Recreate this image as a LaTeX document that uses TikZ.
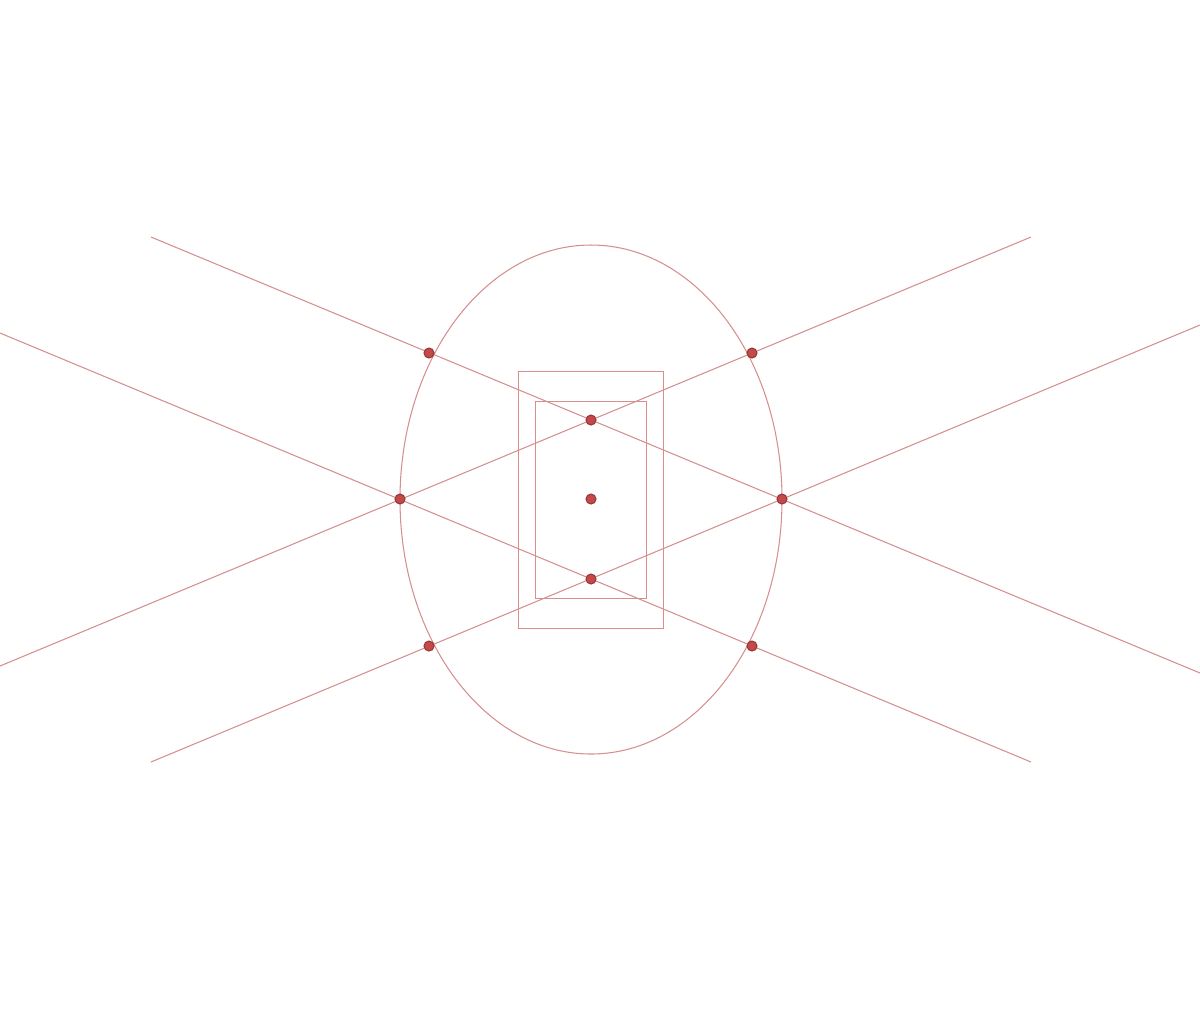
\documentclass[tikz,border=0pt]{standalone}
\usepackage{tikz}
\usetikzlibrary{positioning,calc}
\definecolor{linered}{HTML}{D68E8E}
\definecolor{dotred}{HTML}{C44A4A}
\definecolor{dotdark}{HTML}{963636}
\tikzset{
	vert/.style={circle,inner sep=0,fill=dotred,draw=dotdark,line width=0.3pt,minimum size=0.1cm},
	edge/.style={color=linered, line width=0.3pt},
	frame/.style={color=linered, line width=0.3pt}
}
\begin{document}
\begin{tikzpicture}[x=0.01cm,y=-0.01cm]
				\useasboundingbox (0,0) rectangle (1200,1029);
				
				%%%% ellipse and boxes
				\draw[edge] (591,499.5) ellipse [x radius=191, y radius=254.5];
				\draw[frame] (518.5,371.5) rectangle (663.5,628.5);
				\draw[frame] (535.5,401.5) rectangle (646.5,598.5);
				
				%%%% line ends
				\coordinate (a1) at (151,237);
				\coordinate (a2) at (1200,673);
				\coordinate (b1) at (0,333);
				\coordinate (b2) at (1031,762);
				\coordinate (c1) at (1031,237);
				\coordinate (c2) at (0,666);
				\coordinate (d1) at (1200,325);
				\coordinate (d2) at (151,762);
				
				\draw[edge] (a1) -- (a2);
				\draw[edge] (b1) -- (b2);
				\draw[edge] (c1) -- (c2);
				\draw[edge] (d1) -- (d2);
				
				%%%% points
				\node[vert] (tl) at (429,353) {};
				\node[vert] (tr) at (752,353) {};
				\node[vert] (top) at (591,420) {};
				\node[vert] (l) at (400,499) {};
				\node[vert] (o) at (591,499) {};
				\node[vert] (r) at (782,499) {};
				\node[vert] (bot) at (591,579) {};
				\node[vert] (bl) at (429,646) {};
				\node[vert] (br) at (752,646) {};
\end{tikzpicture}
\end{document}
